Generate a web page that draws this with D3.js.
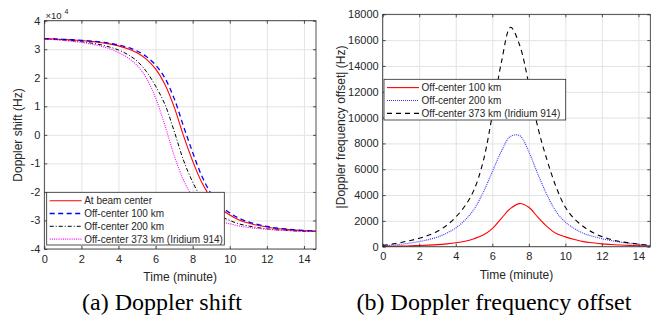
<!DOCTYPE html>
<html>
<head>
<meta charset="utf-8">
<script src="https://cdn.jsdelivr.net/npm/d3@7"></script>
<style>
  html, body { margin: 0; padding: 0; background: #fff; }
  svg { display: block; }
  text { font-family: "Liberation Sans", Arial, sans-serif; fill: #262626; }
  .caption { font-family: "Liberation Serif", "Times New Roman", serif; fill: #000; }
  .grid line { stroke: #e3e3e3; stroke-width: 1; }
  .grid path { display: none; }
  .ax path { display: none; }
  .ax line { stroke: #262626; stroke-width: 0.8; }
</style>
</head>
<body>
<svg id="fig" width="672" height="326"></svg>
<script>
// Sample times of the satellite pass (minutes)
const timeMin = [0, 0.5, 1, 1.5, 2, 2.5, 3, 3.5, 4, 4.5, 5, 5.5, 6, 6.5, 7, 7.5,
  8, 8.5, 9, 9.5, 10, 10.5, 11, 11.5, 12, 12.5, 13, 13.5, 14, 14.5, 14.65];

// (a) Doppler shift, in units of 1e4 Hz
const shiftBeamCenter = [3.369, 3.357, 3.343, 3.326, 3.304, 3.275, 3.238, 3.187, 3.118, 3.020,
  2.875, 2.654, 2.310, 1.773, 0.981, -0.020, -0.920, -1.680, -2.220, -2.580, -2.810, -2.980,
  -3.090, -3.170, -3.230, -3.280, -3.310, -3.340, -3.360, -3.370, -3.375];
const shiftOff100 = [3.371, 3.360, 3.348, 3.333, 3.313, 3.287, 3.254, 3.209, 3.148, 3.062,
  2.937, 2.744, 2.450, 1.993, 1.278, 0.314, -0.615, -1.453, -2.065, -2.478, -2.734, -2.924,
  -3.051, -3.140, -3.208, -3.263, -3.297, -3.330, -3.353, -3.365, -3.370];
const shiftOff200 = [3.363, 3.345, 3.324, 3.298, 3.264, 3.220, 3.163, 3.082, 2.973, 2.815,
  2.585, 2.224, 1.710, 1.073, 0.136, -0.880, -1.655, -2.240, -2.620, -2.850, -3.000, -3.120,
  -3.193, -3.250, -3.292, -3.327, -3.345, -3.366, -3.378, -3.381, -3.384];
const shiftOff373 = [3.359, 3.337, 3.310, 3.278, 3.239, 3.187, 3.118, 3.022, 2.888, 2.705,
  2.435, 1.994, 1.290, 0.343, -0.719, -1.580, -2.180, -2.600, -2.890, -3.040, -3.115, -3.195,
  -3.245, -3.280, -3.308, -3.336, -3.350, -3.369, -3.380, -3.382, -3.385];

// (b) |Doppler frequency offset| relative to beam center, Hz
const offsetOff100 = [20, 30, 45, 65, 90, 120, 160, 220, 300, 420, 620, 900, 1400, 2200, 2970,
  3340, 3050, 2270, 1550, 1020, 760, 560, 390, 300, 220, 170, 130, 100, 75, 55, 50];
const offsetOff200 = [60, 120, 190, 280, 400, 550, 750, 1050, 1450, 2050, 2900, 4200, 5800,
  7400, 8550, 8600, 7350, 5600, 4000, 2700, 1900, 1400, 1030, 800, 620, 470, 350, 260, 180,
  110, 90];
const offsetOff373 = [100, 200, 330, 480, 650, 880, 1200, 1650, 2300, 3150, 4400, 6600, 10200,
  14300, 17000, 15600, 12600, 9200, 6700, 4600, 3050, 2150, 1550, 1100, 780, 560, 400, 290,
  200, 120, 100];

const timeTicks = [0, 2, 4, 6, 8, 10, 12, 14];
const shiftTicks = [-4, -3, -2, -1, 0, 1, 2, 3, 4];
const offsetTicks = [0, 2000, 4000, 6000, 8000, 10000, 12000, 14000, 16000, 18000];

const shiftLabels = ["At beam center", "Off-center 100 km", "Off-center 200 km",
  "Off-center 373 km (Iridium 914)"];
const offsetLabels = ["Off-center 100 km", "Off-center 200 km",
  "Off-center 373 km (Iridium 914)"];

const svg = d3.select("#fig");

function panel(cfg) {
  const g = svg.append("g");
  const x = d3.scaleLinear().domain([0, 14.65]).range([cfg.left, cfg.right]);
  const y = d3.scaleLinear().domain(cfg.yDomain).range([cfg.bottom, cfg.top]);
  const w = cfg.right - cfg.left, h = cfg.bottom - cfg.top;

  // grid
  g.append("g").attr("class", "grid").attr("transform", `translate(0,${cfg.bottom})`)
    .call(d3.axisBottom(x).tickValues(timeTicks).tickSize(-h).tickFormat(""));
  g.append("g").attr("class", "grid").attr("transform", `translate(${cfg.left},0)`)
    .call(d3.axisLeft(y).tickValues(cfg.yTicks).tickSize(-w).tickFormat(""));

  // curves
  const clipId = cfg.id + "-clip";
  svg.append("clipPath").attr("id", clipId).append("rect")
    .attr("x", cfg.left).attr("y", cfg.top).attr("width", w).attr("height", h);
  const line = d3.line().x((d, i) => x(timeMin[i])).y(d => y(d))
    .curve(d3.curveCatmullRom.alpha(0.5));
  const cg = g.append("g").attr("clip-path", `url(#${clipId})`);
  cfg.series.forEach(s => {
    cg.append("path").attr("d", line(s.values)).attr("fill", "none")
      .attr("stroke", s.color).attr("stroke-width", s.width)
      .attr("stroke-dasharray", s.dash || null);
  });

  // axes with inward ticks
  const tk = 3;
  const xb = g.append("g").attr("class", "ax").attr("transform", `translate(0,${cfg.bottom})`)
    .call(d3.axisBottom(x).tickValues(timeTicks).tickSizeInner(-tk).tickSizeOuter(0).tickPadding(6));
  xb.selectAll("text").attr("font-size", 11).attr("fill", "#262626").attr("dy", "0.71em");
  g.append("g").attr("class", "ax").attr("transform", `translate(0,${cfg.top})`)
    .call(d3.axisTop(x).tickValues(timeTicks).tickSizeInner(-tk).tickSizeOuter(0).tickFormat(""));
  const yl = g.append("g").attr("class", "ax").attr("transform", `translate(${cfg.left},0)`)
    .call(d3.axisLeft(y).tickValues(cfg.yTicks).tickSizeInner(-tk).tickSizeOuter(0).tickPadding(4)
      .tickFormat(cfg.fmt));
  yl.selectAll("text").attr("font-size", 11).attr("fill", "#262626");
  g.append("g").attr("class", "ax").attr("transform", `translate(${cfg.right},0)`)
    .call(d3.axisRight(y).tickValues(cfg.yTicks).tickSizeInner(-tk).tickSizeOuter(0).tickFormat(""));

  g.append("rect").attr("x", cfg.left).attr("y", cfg.top).attr("width", w).attr("height", h)
    .attr("fill", "none").attr("stroke", "#262626").attr("stroke-width", 0.8);

  // axis titles
  g.append("text").attr("x", (cfg.left + cfg.right) / 2).attr("y", cfg.xLabelY)
    .attr("text-anchor", "middle").attr("font-size", 12).text("Time (minute)");
  g.append("text").attr("transform", `translate(${cfg.yLabelX},${cfg.yLabelCy}) rotate(-90)`)
    .attr("text-anchor", "middle").attr("font-size", 12).text(cfg.yLabel);

  // legend
  const L = cfg.legend;
  const lg = g.append("g");
  lg.append("rect").attr("x", L.x).attr("y", L.y).attr("width", L.w).attr("height", L.h)
    .attr("fill", "#fff").attr("stroke", "#262626").attr("stroke-width", 0.8);
  cfg.series.forEach((s, i) => {
    const cy = L.y + L.first + i * L.step;
    lg.append("line").attr("x1", L.x + 3).attr("x2", L.x + 35).attr("y1", cy).attr("y2", cy)
      .attr("stroke", s.color).attr("stroke-width", s.width)
      .attr("stroke-dasharray", s.dash || null);
    lg.append("text").attr("x", L.x + 37.5).attr("y", cy + 3.6).attr("font-size", 10)
      .attr("fill", "#000").text(L.labels[i]);
  });
  return { g, x, y };
}

const left = panel({
  id: "shift", left: 44.3, right: 316, top: 20.7, bottom: 249,
  yDomain: [-4, 4], yTicks: shiftTicks, fmt: d => String(d),
  yLabel: "Doppler shift (Hz)", yLabelX: 22, yLabelCy: 135, xLabelY: 281,
  series: [
    { values: shiftBeamCenter, color: "#ff0000", width: 1.1 },
    { values: shiftOff100, color: "#0000ff", width: 1.3, dash: "5,3.5" },
    { values: shiftOff200, color: "#000000", width: 1, dash: "4,2,1,2" },
    { values: shiftOff373, color: "#ff00ff", width: 1.1, dash: "1,1.2" }
  ],
  legend: { x: 46.7, y: 192.3, w: 177.6, h: 52.7, first: 8.4, step: 12.8, labels: shiftLabels }
});

// x10^4 exponent marker
left.g.append("text").attr("x", 45.5).attr("y", 18.5).attr("font-size", 9.5)
  .text("\u00d710");
left.g.append("text").attr("x", 64.5).attr("y", 13.5).attr("font-size", 7).text("4");

const right = panel({
  id: "offset", left: 382.7, right: 650.3, top: 14.3, bottom: 246.7,
  yDomain: [0, 18000], yTicks: offsetTicks, fmt: d => String(d),
  yLabel: "|Doppler frequency offset| (Hz)", yLabelX: 345, yLabelCy: 127, xLabelY: 279,
  series: [
    { values: offsetOff100, color: "#ff0000", width: 1.1 },
    { values: offsetOff200, color: "#3333ff", width: 1.1, dash: "1,1" },
    { values: offsetOff373, color: "#000000", width: 1.1, dash: "5,4" }
  ],
  legend: { x: 384, y: 79.3, w: 181.7, h: 40.7, first: 8.3, step: 12.9, labels: offsetLabels }
});

// sub-figure captions
svg.append("text").attr("class", "caption").attr("x", 162).attr("y", 310)
  .attr("text-anchor", "middle").attr("font-size", 24).text("(a) Doppler shift");
svg.append("text").attr("class", "caption").attr("x", 494).attr("y", 310)
  .attr("text-anchor", "middle").attr("font-size", 24).text("(b) Doppler frequency offset");
</script>
</body>
</html>
